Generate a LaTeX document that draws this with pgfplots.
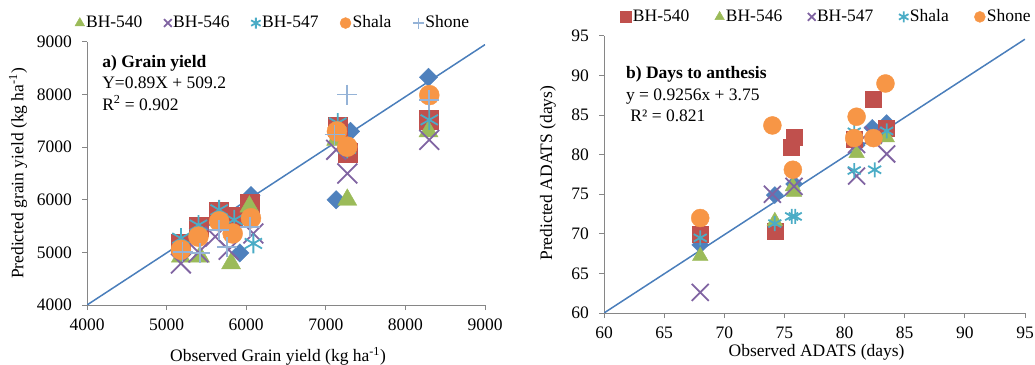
\documentclass[border=0pt]{standalone}
\usepackage{pgfplots}
\pgfplotsset{compat=1.18}
\usepackage{fontspec}
\setmainfont{Liberation Serif}
\definecolor{cD}{HTML}{4F81BD}
\definecolor{cR}{HTML}{C0504D}
\definecolor{cG}{HTML}{9BBB59}
\definecolor{cP}{HTML}{8064A2}
\definecolor{cC}{HTML}{4BACC6}
\definecolor{cO}{HTML}{F79646}
\definecolor{cL}{HTML}{95B3D7}
\definecolor{axg}{HTML}{868686}
\definecolor{lineblue}{HTML}{4A7EBB}
\pgfplotsset{
  base/.style={
    scale only axis,
    axis x line*=bottom, axis y line*=left,
    axis line style={draw=axg, line width=1bp, -},
    tick align=outside, major tick length=5bp,
    tick style={draw=axg, line width=1bp},
    minor tick num=0,
    tick label style={font=\fontsize{17.5bp}{21bp}\selectfont},
    xticklabel style={yshift=-3bp},
    yticklabel style={xshift=-4bp},
    label style={font=\fontsize{17.5bp}{21bp}\selectfont},
    /pgf/number format/assume math mode=true,
    /pgf/number format/1000 sep={},
    legend style={draw=none, fill=none, legend columns=-1,
      font=\fontsize{17.5bp}{21bp}\selectfont,
      /tikz/every odd column/.append style={column sep=0bp},
      /tikz/every even column/.append style={column sep=20bp},
      nodes={inner xsep=1.5bp},
      inner sep=0pt},
    legend image post style={mark size=5.5bp},
  },
  mD/.style={only marks, mark=square*, mark size=#1, mark options={rotate=45, fill=cD, draw=cD}},
  mR/.style={only marks, mark=square*, mark size=#1, mark options={fill=cR, draw=cR}},
  mG/.style={only marks, mark=triangle*, mark size=#1, mark options={fill=cG, draw=cG}},
  mP/.style={only marks, mark=x, mark size=#1, mark options={draw=cP, line width=1.8bp}},
  mC/.style={only marks, mark=asterisk, mark size=#1, mark options={draw=cC, line width=1.8bp}},
  mO/.style={only marks, mark=*, mark size=#1, mark options={fill=cO, draw=cO}},
  mL/.style={only marks, mark=+, mark size=#1, mark options={draw=cL, line width=1.8bp}},
}
\begin{document}
\fontsize{17.5bp}{21bp}\selectfont
\begin{tikzpicture}
\useasboundingbox (0bp,0bp) rectangle (1035bp,365bp);
% ---------------- left panel
\begin{axis}[base,
  at={(87bp,60bp)}, anchor=south west,
  width=398bp, height=263bp,
  xmin=4000, xmax=9000, ymin=4000, ymax=9000,
  xtick={4000,5000,6000,7000,8000,9000},
  ytick={4000,5000,6000,7000,8000,9000},
  xlabel={Observed Grain yield (kg ha\textsuperscript{-1})},
  ylabel={Predicted grain yield (kg ha\textsuperscript{-1})},
  xlabel style={at={(axis description cs:0.48,-0.194)}, anchor=center},
  ylabel style={at={(axis description cs:-0.173,0.5)}, anchor=center},
  legend style={at={(axis description cs:0.467,1.072)}, anchor=center},
]
\addplot[mD=6.5bp, forget plot] coordinates {(5180,5150) (5400,5450) (5660,5700) (5920,4990) (6060,6080) (7130,6000) (7310,7300) (8290,8330)};
\addplot[mR=9.5bp, forget plot] coordinates {(5180,5170) (5400,5490) (5660,5780) (5830,5680) (6050,5930) (7150,7390) (7270,6890) (8290,7520)};
\addplot[mG=11bp] coordinates {(5180,4920) (5420,4920) (5660,5650) (5810,4790) (6040,5870) (7130,7140) (7270,6000) (8290,7300)};
\addlegendentry{BH-540}
\addplot[mP=14bp] coordinates {(5180,4790) (5400,5000) (5610,5300) (5780,5050) (6090,5360) (7130,6950) (7270,6500) (8300,7140)};
\addlegendentry{BH-546}
\addplot[mC=10bp] coordinates {(5180,5270) (5400,5520) (5660,5810) (5850,5620) (6090,5170) (7150,7460) (7270,6980) (8300,7520)};
\addlegendentry{BH-547}
\addplot[mO=10bp] coordinates {(5180,5050) (5400,5300) (5660,5590) (5830,5360) (6060,5650) (7140,7300) (7270,7010) (8300,7990)};
\addlegendentry{Shala}
\addplot[mL=10bp] coordinates {(5200,5010) (5420,4990) (5660,5430) (5760,5110) (6050,5490) (7110,7240) (7270,8000) (8300,7900)};
\addlegendentry{Shone}
\addplot[lineblue, line width=1.5bp, no marks, forget plot] coordinates {(4000,4000) (9000,8950)};
\node[anchor=west, font=\bfseries\fontsize{17.5bp}{21bp}\selectfont, inner sep=0pt] at (axis description cs:0.038,0.92) {a) Grain yield};
\node[anchor=west, inner sep=0pt] at (axis description cs:0.038,0.844) {Y=0.89X + 509.2};
\node[anchor=west, inner sep=0pt] at (axis description cs:0.038,0.768) {R\textsuperscript{2} = 0.902};
\end{axis}
% ---------------- right panel
\begin{axis}[base,
  at={(604bp,52bp)}, anchor=south west,
  width=421bp, height=277bp,
  xmin=60, xmax=95, ymin=60, ymax=95,
  xtick={60,65,...,95}, ytick={60,65,...,95},
  xlabel={Observed ADATS (days)},
  ylabel={Predicted ADATS (days)},
  xlabel style={at={(axis description cs:0.505,-0.142)}, anchor=center},
  ylabel style={at={(axis description cs:-0.133,0.505)}, anchor=center},
  legend style={at={(axis description cs:0.528,1.069)}, anchor=center,
    /tikz/every even column/.append style={column sep=24bp}},
]
\addplot[mD=6bp, forget plot] coordinates {(68,68.6) (74.2,74.9) (75.8,76.3) (80.9,81.5) (81.0,81.2) (82.3,83.4) (83.5,84.0)};
\addplot[mR=8bp] coordinates {(68,69.9) (74.2,70.3) (75.8,82.2) (75.6,81.0) (80.8,81.9) (82.4,87.0) (83.5,83.3)};
\addlegendentry{BH-540}
\addplot[mG=9bp] coordinates {(68,67.2) (74.2,71.6) (75.8,75.3) (75.7,76.0) (81.0,80.2) (82.4,81.9) (83.5,82.2)};
\addlegendentry{BH-546}
\addplot[mP=12bp] coordinates {(68,62.6) (74.0,75.0) (75.8,76.0) (81.0,81.3) (81.0,77.3) (82.4,82.5) (83.5,80.1)};
\addlegendentry{BH-547}
\addplot[mC=7.5bp] coordinates {(68,69.5) (74.2,71.3) (75.6,72.2) (75.9,72.2) (80.8,82.9) (80.8,78.0) (82.5,78.1) (83.5,83.0)};
\addlegendentry{Shala}
\addplot[mO=9bp] coordinates {(68,72.0) (74.0,83.7) (75.7,78.1) (81.0,84.8) (80.8,82.1) (82.4,82.1) (83.4,89.0)};
\addlegendentry{Shone}
\addplot[lineblue, line width=1.5bp, no marks, forget plot] coordinates {(60,60) (95,94.6)};
\node[anchor=west, font=\bfseries\fontsize{17.5bp}{21bp}\selectfont, inner sep=0pt] at (axis description cs:0.052,0.863) {b) Days to anthesis};
\node[anchor=west, inner sep=0pt] at (axis description cs:0.052,0.783) {y = 0.9256x + 3.75};
\node[anchor=west, inner sep=0pt] at (axis description cs:0.052,0.711) {\ R² = 0.821};
\end{axis}
\end{tikzpicture}
\end{document}
